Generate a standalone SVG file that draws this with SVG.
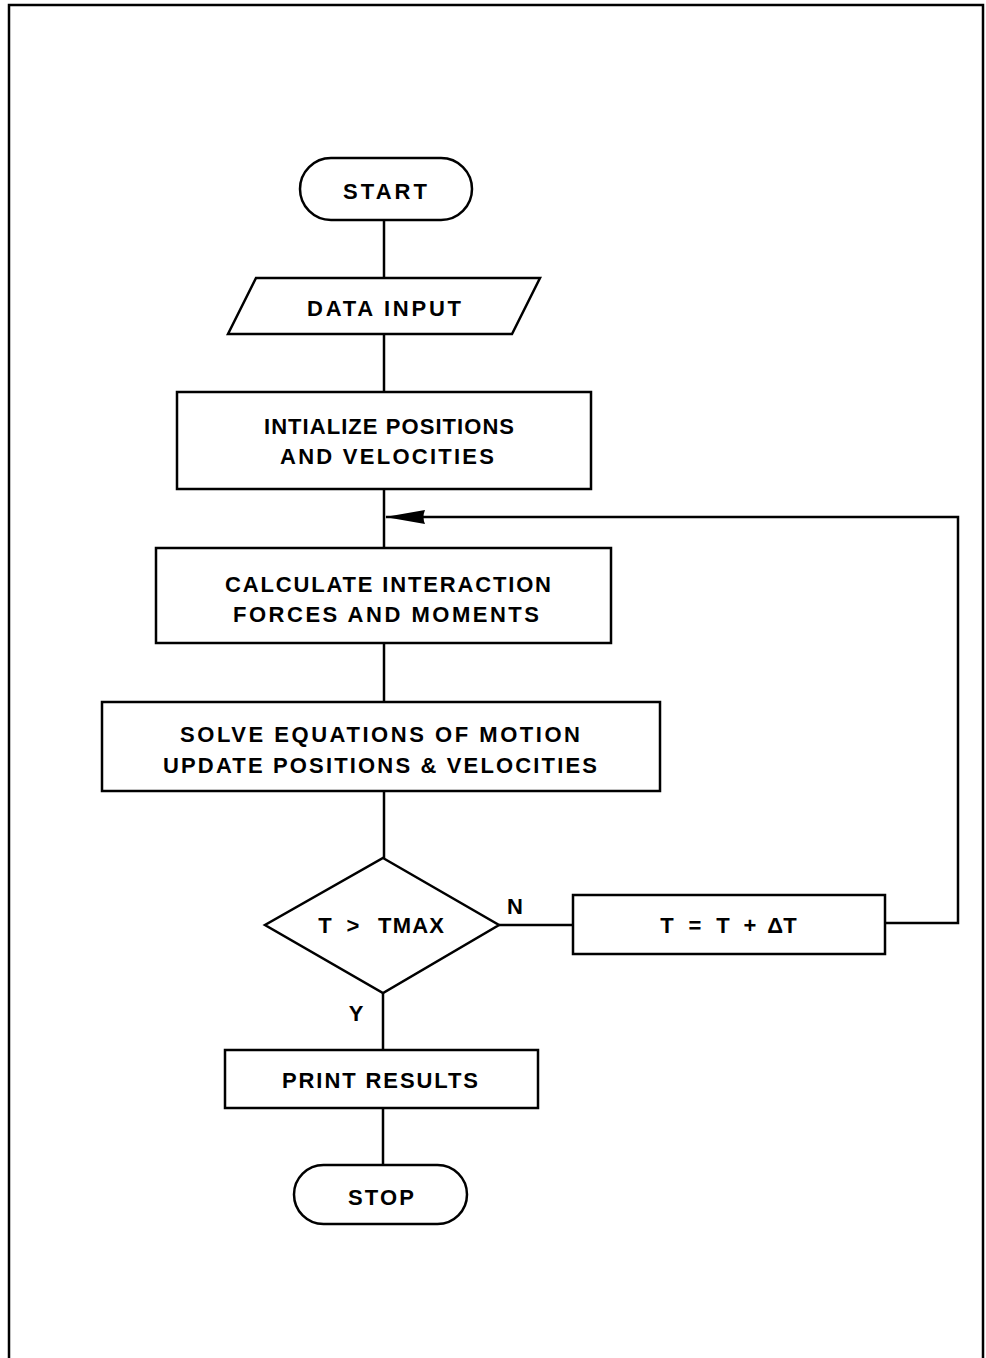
<svg xmlns="http://www.w3.org/2000/svg" width="986" height="1358" viewBox="0 0 986 1358">
  <style>
    .shape { fill: #fff; stroke: #000; stroke-width: 2.5; }
    .wire { fill: none; stroke: #000; stroke-width: 2.5; }
    .label { font-family: "Liberation Sans", Arial, sans-serif; font-weight: bold; font-size: 22px; fill: #000; text-anchor: middle; }
  </style>
  <defs>
    <marker id="arrow" viewBox="0 0 40 16" refX="39" refY="8" markerWidth="40" markerHeight="16" markerUnits="userSpaceOnUse" orient="auto">
      <path d="M0,1 L40,8 L0,15 Q3,8 0,1 Z" fill="#000"/>
    </marker>
  </defs>
  <rect width="986" height="1358" fill="#fff"/>
  <!-- page frame -->
  <path class="wire" d="M9,1358 V5 H983 V1358" stroke-width="3"/>

  <g id="connectors">
    <line class="wire" x1="384" y1="220" x2="384" y2="278"/>
    <line class="wire" x1="384" y1="334" x2="384" y2="392"/>
    <line class="wire" x1="384" y1="490" x2="384" y2="547"/>
    <line class="wire" x1="384" y1="643" x2="384" y2="702"/>
    <line class="wire" x1="384" y1="791" x2="384" y2="858"/>
    <line class="wire" x1="383" y1="993" x2="383" y2="1050"/>
    <line class="wire" x1="383" y1="1108" x2="383" y2="1165"/>
    <line class="wire" x1="499" y1="925" x2="573" y2="925"/>
    <path class="wire" d="M885,923 H958 V517 H386" marker-end="url(#arrow)"/>
    <text class="label" x="515" y="914">N</text>
    <text class="label" x="356" y="1021">Y</text>
  </g>

  <g id="start">
    <rect class="shape" x="300" y="158" width="172" height="62" rx="31"/>
    <text class="label" x="385" y="199" textLength="84" lengthAdjust="spacing">START</text>
  </g>

  <g id="data-input">
    <polygon class="shape" points="256,278 540,278 512,334 228,334"/>
    <text class="label" x="384" y="316" textLength="154" lengthAdjust="spacing">DATA INPUT</text>
  </g>

  <g id="initialize">
    <rect class="shape" x="177" y="392" width="414" height="97"/>
    <text class="label" x="389" y="434" textLength="250" lengthAdjust="spacing">INTIALIZE POSITIONS</text>
    <text class="label" x="387" y="464" textLength="214" lengthAdjust="spacing">AND VELOCITIES</text>
  </g>

  <g id="calculate">
    <rect class="shape" x="156" y="548" width="455" height="95"/>
    <text class="label" x="388" y="592" textLength="326" lengthAdjust="spacing">CALCULATE INTERACTION</text>
    <text class="label" x="386" y="622" textLength="306" lengthAdjust="spacing">FORCES AND MOMENTS</text>
  </g>

  <g id="solve">
    <rect class="shape" x="102" y="702" width="558" height="89"/>
    <text class="label" x="380" y="742" textLength="400" lengthAdjust="spacing">SOLVE EQUATIONS OF MOTION</text>
    <text class="label" x="380" y="773" textLength="434" lengthAdjust="spacing">UPDATE POSITIONS &amp; VELOCITIES</text>
  </g>

  <g id="decision">
    <polygon class="shape" points="383,858 499,925 383,993 265,925"/>
    <text class="label" x="325" y="933">T</text>
    <text class="label" x="353" y="933">&gt;</text>
    <text class="label" x="411" y="933" textLength="66" lengthAdjust="spacing">TMAX</text>
  </g>

  <g id="increment">
    <rect class="shape" x="573" y="895" width="312" height="59"/>
    <text class="label" x="667" y="933">T</text>
    <text class="label" x="695" y="933">=</text>
    <text class="label" x="723" y="933">T</text>
    <text class="label" x="750" y="933">+</text>
    <text class="label" x="782" y="933">ΔT</text>
  </g>

  <g id="print">
    <rect class="shape" x="225" y="1050" width="313" height="58"/>
    <text class="label" x="380" y="1088" textLength="196" lengthAdjust="spacing">PRINT RESULTS</text>
  </g>

  <g id="stop">
    <rect class="shape" x="294" y="1165" width="173" height="59" rx="29.5"/>
    <text class="label" x="381" y="1205" textLength="66" lengthAdjust="spacing">STOP</text>
  </g>
</svg>
